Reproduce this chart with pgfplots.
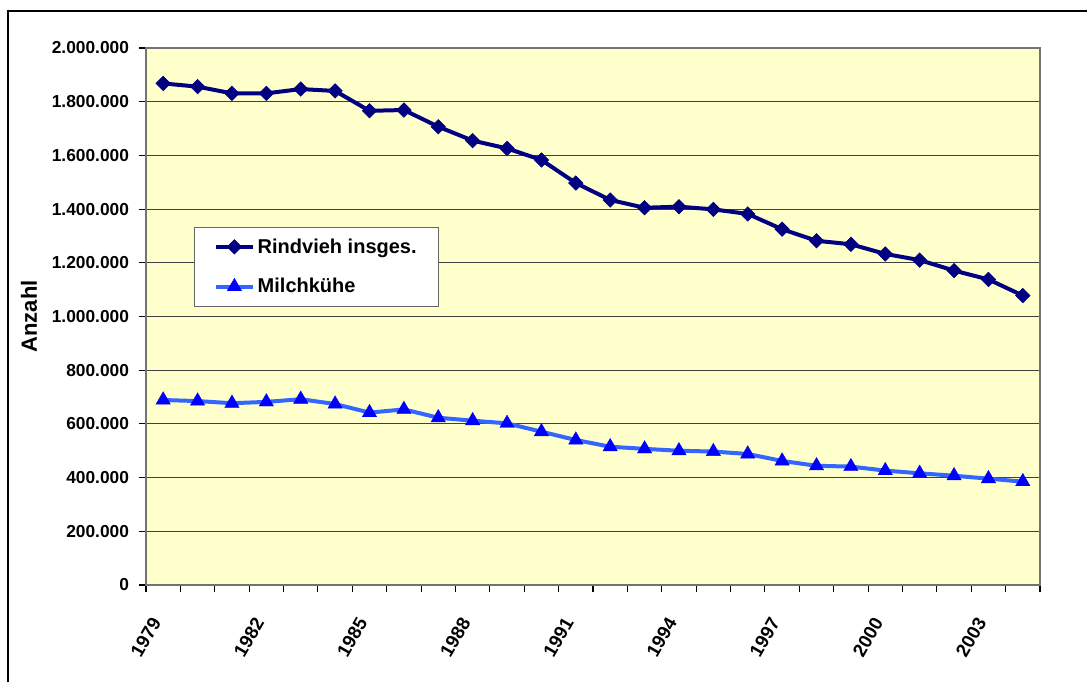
\documentclass[border=0pt]{standalone}
\usepackage{pgfplots}
\pgfplotsset{compat=1.18}
\usepackage{fontspec}
\setmainfont{Liberation Sans}
\definecolor{bg}{HTML}{FFFFCC}
\definecolor{navyc}{HTML}{000080}
\definecolor{milchline}{HTML}{3366FF}
\definecolor{milchmark}{HTML}{0000FF}
\pgfplotstableread{
i rind milch
0 1868000 689000
1 1856000 685000
2 1831000 677000
3 1831000 682000
4 1847000 692000
5 1840000 674000
6 1766000 642000
7 1769000 654000
8 1707000 623000
9 1655000 612000
10 1626000 602000
11 1583000 571000
12 1497000 540000
13 1434000 515000
14 1405000 507000
15 1409000 500000
16 1399000 497000
17 1382000 488000
18 1325000 462000
19 1282000 444000
20 1269000 441000
21 1233000 426000
22 1210000 416000
23 1171000 407000
24 1138000 396000
25 1078000 385000
}\datatable
\begin{document}
\begin{tikzpicture}
\useasboundingbox (0pt,0pt) rectangle (815.25pt,511.5pt);
\draw[line width=2.2pt] (6pt,0pt) -- (6pt,503.25pt) -- (815.25pt,503.25pt);
\begin{axis}[
  at={(109.5pt,72.75pt)}, anchor=south west,
  scale only axis, width=670.5pt, height=402.75pt,
  xmin=-0.5, xmax=25.5, ymin=0, ymax=2000000,
  axis background/.style={fill=bg},
  axis line style={draw=black!55, line width=0.9pt},
  ytick={0,200000,400000,600000,800000,1000000,1200000,1400000,1600000,1800000,2000000},
  yticklabels={0,200.000,400.000,600.000,800.000,1.000.000,1.200.000,1.400.000,1.600.000,1.800.000,2.000.000},
  scaled y ticks=false,
  xtick={0,3,...,24},
  xticklabels={1979,1982,1985,1988,1991,1994,1997,2000,2003},
  minor xtick={-0.5,0.5,...,25.5},
  tick pos=left,
  tick align=outside,
  major tick length=5.25pt, minor tick length=5.25pt,
  major x tick style={draw=none},
  minor x tick style={black, line width=0.8pt},
  major y tick style={black, line width=0.8pt},
  ymajorgrids, grid style={black!75, line width=0.7pt},
  tick label style={font=\fontsize{13}{15}\selectfont\bfseries},
  yticklabel style={xshift=-4pt},
  xticklabel style={xshift=-3.5pt, yshift=-17.5pt, rotate=60, anchor=east, font=\fontsize{14}{15}\selectfont\bfseries},
  ylabel={Anzahl},
  ylabel style={at={(axis description cs:-0.131,0.5)}, anchor=center, font=\fontsize{16.5}{18}\selectfont\bfseries},
  legend style={at={(rel axis cs:0.0537,0.667)}, anchor=north west, draw=black!60, line width=0.6pt, fill=white,
    font=\fontsize{15}{18}\selectfont\bfseries, inner xsep=14.5pt, inner ysep=6.5pt, row sep=13.5pt},
  legend cell align=left,
  legend image code/.code={\draw[mark repeat=2,mark phase=2,#1] plot coordinates {(0pt,0pt) (14pt,0pt) (28pt,0pt)};},
]
\addplot[navyc, line width=3pt, mark=square*, mark size=3.8pt, mark options={rotate=45, solid, fill=navyc, line width=0.5pt}] table[x=i, y=rind] {\datatable};
\addlegendentry{Rindvieh insges.}
\addplot[milchline, line width=3pt, mark=triangle*, mark size=6.2pt, mark options={solid, draw=milchmark, fill=milchmark, line width=0.3pt}] table[x=i, y=milch] {\datatable};
\addlegendentry{Milchkühe}
\end{axis}
\end{tikzpicture}
\end{document}
